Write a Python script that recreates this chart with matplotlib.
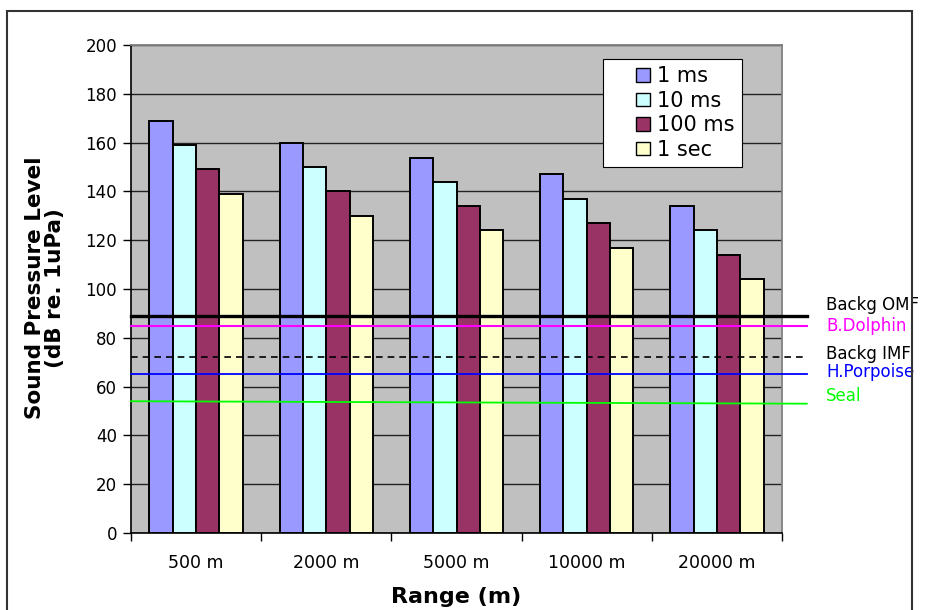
import matplotlib
matplotlib.use("Agg")
import matplotlib.pyplot as plt
import numpy as np
from matplotlib.patches import Rectangle
from matplotlib.container import BarContainer
from matplotlib.legend_handler import HandlerPatch, update_from_first_child

plt.rcParams["font.family"] = ["DejaVu Sans"]

ranges = ["500 m", "2000 m", "5000 m", "10000 m", "20000 m"]
durations = ["1 ms", "10 ms", "100 ms", "1 sec"]
spl_1ms = [169, 160, 153.5, 147, 134]
spl_10ms = [159, 150, 144, 137, 124]
spl_100ms = [149, 140, 134, 127, 114]
spl_1sec = [139, 130, 124, 117, 104]
bar_colors = ["#9999FF", "#CCFFFF", "#993366", "#FFFFCC"]

# reference levels (start, end) in dB
ref_names = ["Backg OMF", "B.Dolphin", "Backg IMF", "H.Porpoise", "Seal"]
ref_levels = [(89, 89), (85, 85), (72, 72), (65, 65), (54, 53)]
ref_colors = ["black", "#FF00FF", "black", "#0000FF", "#00FF00"]
ref_styles = ["-", "-", (0, (4, 3)), "-", "-"]
ref_widths = [2.4, 1.5, 1.2, 1.3, 1.3]
ref_label_offsets = [4.5, 0, 1.5, 0.8, 3]

W, H = 946, 610
fig = plt.figure(figsize=(W / 100, H / 100), dpi=100)
ax = fig.add_axes([131 / W, 1 - 533 / H, (782 - 131) / W, (533 - 45) / H])
ax.set_facecolor("#C0C0C0")

x = np.arange(len(ranges))
bw = 0.179
series = [spl_1ms, spl_10ms, spl_100ms, spl_1sec]
for i, (vals, col, lab) in enumerate(zip(series, bar_colors, durations)):
    ax.bar(x + (i - 1.5) * bw, vals, width=bw, color=col, edgecolor="black",
           linewidth=1.4, label=lab, zorder=3)

ax.set_xlim(-0.5, len(ranges) - 0.5)
ax.set_ylim(0, 200)
ax.set_yticks(np.arange(0, 201, 20))
ax.yaxis.grid(True, color="#222222", linewidth=1.0, zorder=0)
ax.set_axisbelow(True)

ax.set_xticks(x)
ax.set_xticklabels(ranges, fontsize=12.5)
ax.set_xticks(np.arange(-0.5, len(ranges)), minor=True)
ax.tick_params(axis="x", which="major", length=0, pad=15)
ax.tick_params(axis="x", which="minor", length=6, width=1, color="black")
ax.tick_params(axis="y", length=6, width=1, labelsize=12, pad=4)

for s in ["top", "right"]:
    ax.spines[s].set_color("#808080")
    ax.spines[s].set_linewidth(1.3)
for s in ["left", "bottom"]:
    ax.spines[s].set_color("black")
    ax.spines[s].set_linewidth(1.2)

# reference lines run past the plot area, labelled on the right
x0, x1 = ax.get_xlim()
x_end = x1 + 0.19
x_txt = x1 + 0.34
for name, (y0, y1), col, ls, lw, off in zip(ref_names, ref_levels, ref_colors,
                                             ref_styles, ref_widths, ref_label_offsets):
    ax.plot([x0, x_end], [y0, y1], color=col, linestyle=ls, linewidth=lw,
            clip_on=False, zorder=4)
    ax.text(x_txt, y1 + off, name, color=col, fontsize=12, va="center",
            ha="left", clip_on=False)


# legend swatches: small squares set to the right of a wide handle box
def swatch(legend, orig_handle, xdescent, ydescent, width, height, fontsize):
    side = height
    return Rectangle((width - side - xdescent, -ydescent + (height - side) / 2),
                     side, side)


leg = ax.legend(loc="upper left", bbox_to_anchor=((603 - 131) / 651, (533 - 59) / 488),
                fontsize=15, frameon=True, fancybox=False, edgecolor="black",
                facecolor="white", framealpha=1, handlelength=1.9, handleheight=0.62,
                handletextpad=0.35, borderpad=0.35, labelspacing=0.22,
                borderaxespad=0,
                handler_map={BarContainer: HandlerPatch(
                    patch_func=swatch, update_func=update_from_first_child)})
leg.get_frame().set_linewidth(0.8)
for p in leg.get_patches():
    p.set_linewidth(1.0)

ax.set_xlabel("Range (m)", fontsize=16, fontweight="bold", labelpad=11)
fig.text(45 / W, 1 - 288 / H, "Sound Pressure Level\n(dB re. 1uPa)", rotation=90,
         fontsize=15.5, fontweight="bold", ha="center", va="center", linespacing=1.05)

# chart frame
fig.patches.append(Rectangle((7 / W, -0.05), (912 - 7) / W, 1.05 - 11 / H,
                             transform=fig.transFigure, fill=False,
                             edgecolor="#333333", linewidth=1.5))

fig.savefig("out.png", dpi=100)
